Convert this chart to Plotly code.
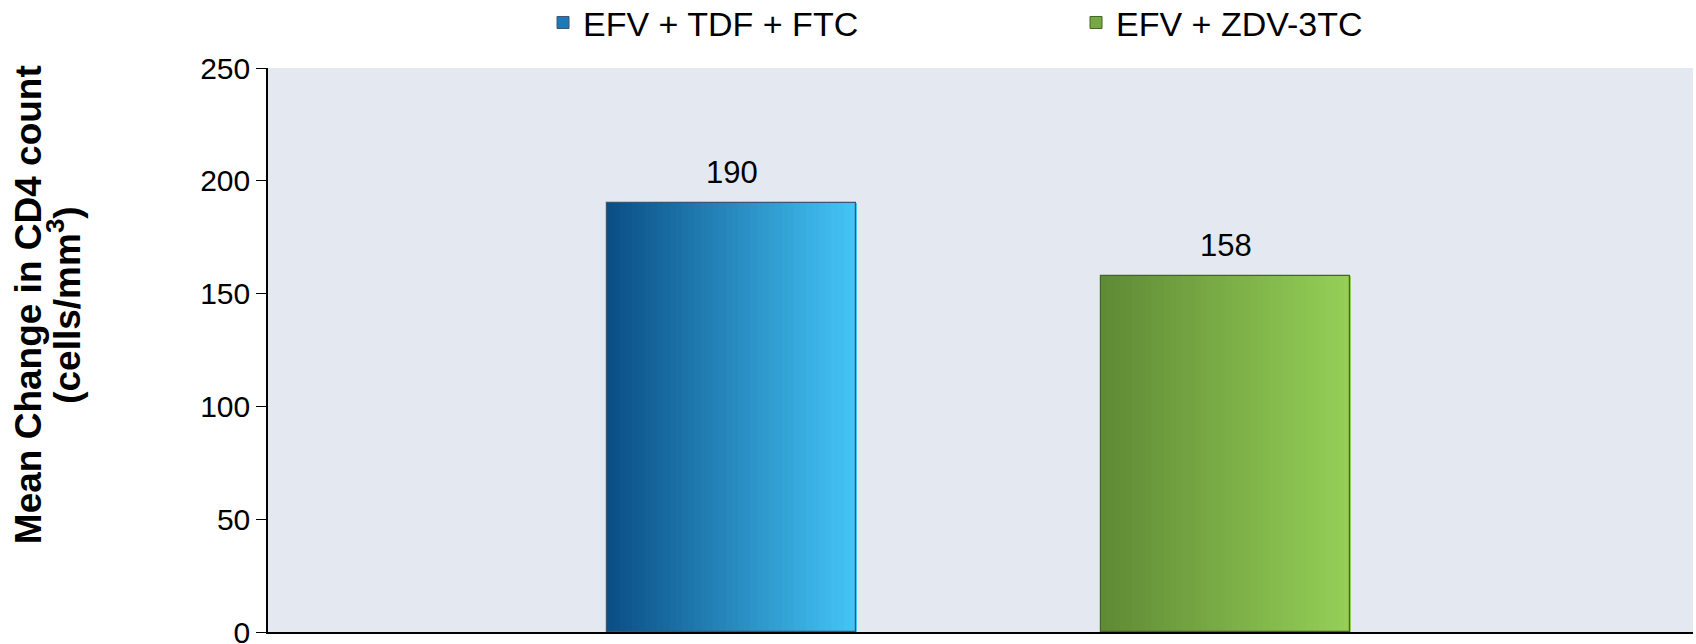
import plotly.graph_objects as go

regimens = ["EFV + TDF + FTC", "EFV + ZDV-3TC"]
cd4_change = [190, 158]
grad_left = ["#0a4f86", "#608b36"]
grad_right = ["#44c4f6", "#95cf56"]
legend_colors = ["#1f78b8", "#76a845"]
edge_colors = ["#3a5670", "#45632a"]
y_ticks = [0, 50, 100, 150, 200, 250]

FONT = "Liberation Sans, Arial, sans-serif"
BAR_W = 0.504
N_SLICES = 40


def hex_to_rgb(h):
    h = h.lstrip("#")
    return tuple(int(h[i:i + 2], 16) for i in (0, 2, 4))


def mix(c1, c2, t):
    a, b = hex_to_rgb(c1), hex_to_rgb(c2)
    return "rgb(%d,%d,%d)" % tuple(round(a[k] + (b[k] - a[k]) * t) for k in range(3))


fig = go.Figure()
for name, val, cl, cr, lc, edge in zip(regimens, cd4_change, grad_left, grad_right,
                                       legend_colors, edge_colors):
    sw = BAR_W / N_SLICES
    for i in range(N_SLICES):
        t = i / (N_SLICES - 1)
        fig.add_trace(go.Bar(
            x=[name], y=[val], width=sw * 1.15, offset=-BAR_W / 2 + i * sw,
            marker=dict(color=mix(cl, cr, t), line=dict(width=0)),
            showlegend=False, hoverinfo="skip", legendgroup=name,
        ))
    # outline
    fig.add_trace(go.Bar(
        x=[name], y=[val], width=BAR_W, name=name, legendgroup=name,
        marker=dict(color="rgba(0,0,0,0)", line=dict(color=edge, width=1.2)),
        showlegend=False,
    ))
    # legend entry
    fig.add_trace(go.Bar(
        x=[name], y=[None], name=name, legendgroup=name,
        marker=dict(color=lc, line=dict(color=edge, width=1)),
        showlegend=True,
    ))
    fig.add_annotation(
        x=name, y=val, text=str(val), showarrow=False,
        yanchor="bottom", yshift=11,
        font=dict(family=FONT, size=31, color="#000000"),
    )

# y-axis title as two rotated lines
fig.add_annotation(
    xref="paper", yref="paper", x=-0.1675, y=0.58,
    text="<b>Mean Change in CD4 count</b>", textangle=-90, showarrow=False,
    xanchor="center", yanchor="middle",
    font=dict(family=FONT, size=37, color="#000000"),
)
fig.add_annotation(
    xref="paper", yref="paper", x=-0.1425, y=0.58,
    text="<b>(cells/mm<sup>3</sup>)</b>", textangle=-90, showarrow=False,
    xanchor="center", yanchor="middle",
    font=dict(family=FONT, size=37, color="#000000"),
)

fig.update_layout(
    width=1696, height=644,
    margin=dict(l=268, r=3, t=68, b=12, autoexpand=False),
    paper_bgcolor="#ffffff",
    plot_bgcolor="#e4e9f1",
    barmode="overlay",
    bargap=0,
    font=dict(family=FONT, color="#000000"),
    legend=dict(
        orientation="h", x=0.193, xanchor="left", y=1.08, yanchor="middle",
        font=dict(family=FONT, size=34, color="#000000"),
        entrywidth=488, itemwidth=30,
        bgcolor="rgba(0,0,0,0)",
    ),
    xaxis=dict(
        range=[-0.939, 1.946], showticklabels=False, ticks="",
        showline=True, linecolor="#000000", linewidth=1.5,
        showgrid=False, zeroline=False,
    ),
    yaxis=dict(
        range=[0, 250], tickvals=y_ticks, ticks="outside", ticklen=10,
        tickcolor="#000000", tickwidth=1.2,
        showline=True, linecolor="#000000", linewidth=1.5,
        showgrid=False, zeroline=False,
        ticklabeloverflow="allow",
        tickfont=dict(family=FONT, size=30, color="#000000"),
    ),
)

fig.write_html(
    "out.html",
    config={"displayModeBar": False},
    post_script="document.body.style.margin='0';document.body.style.overflow='hidden';",
)
